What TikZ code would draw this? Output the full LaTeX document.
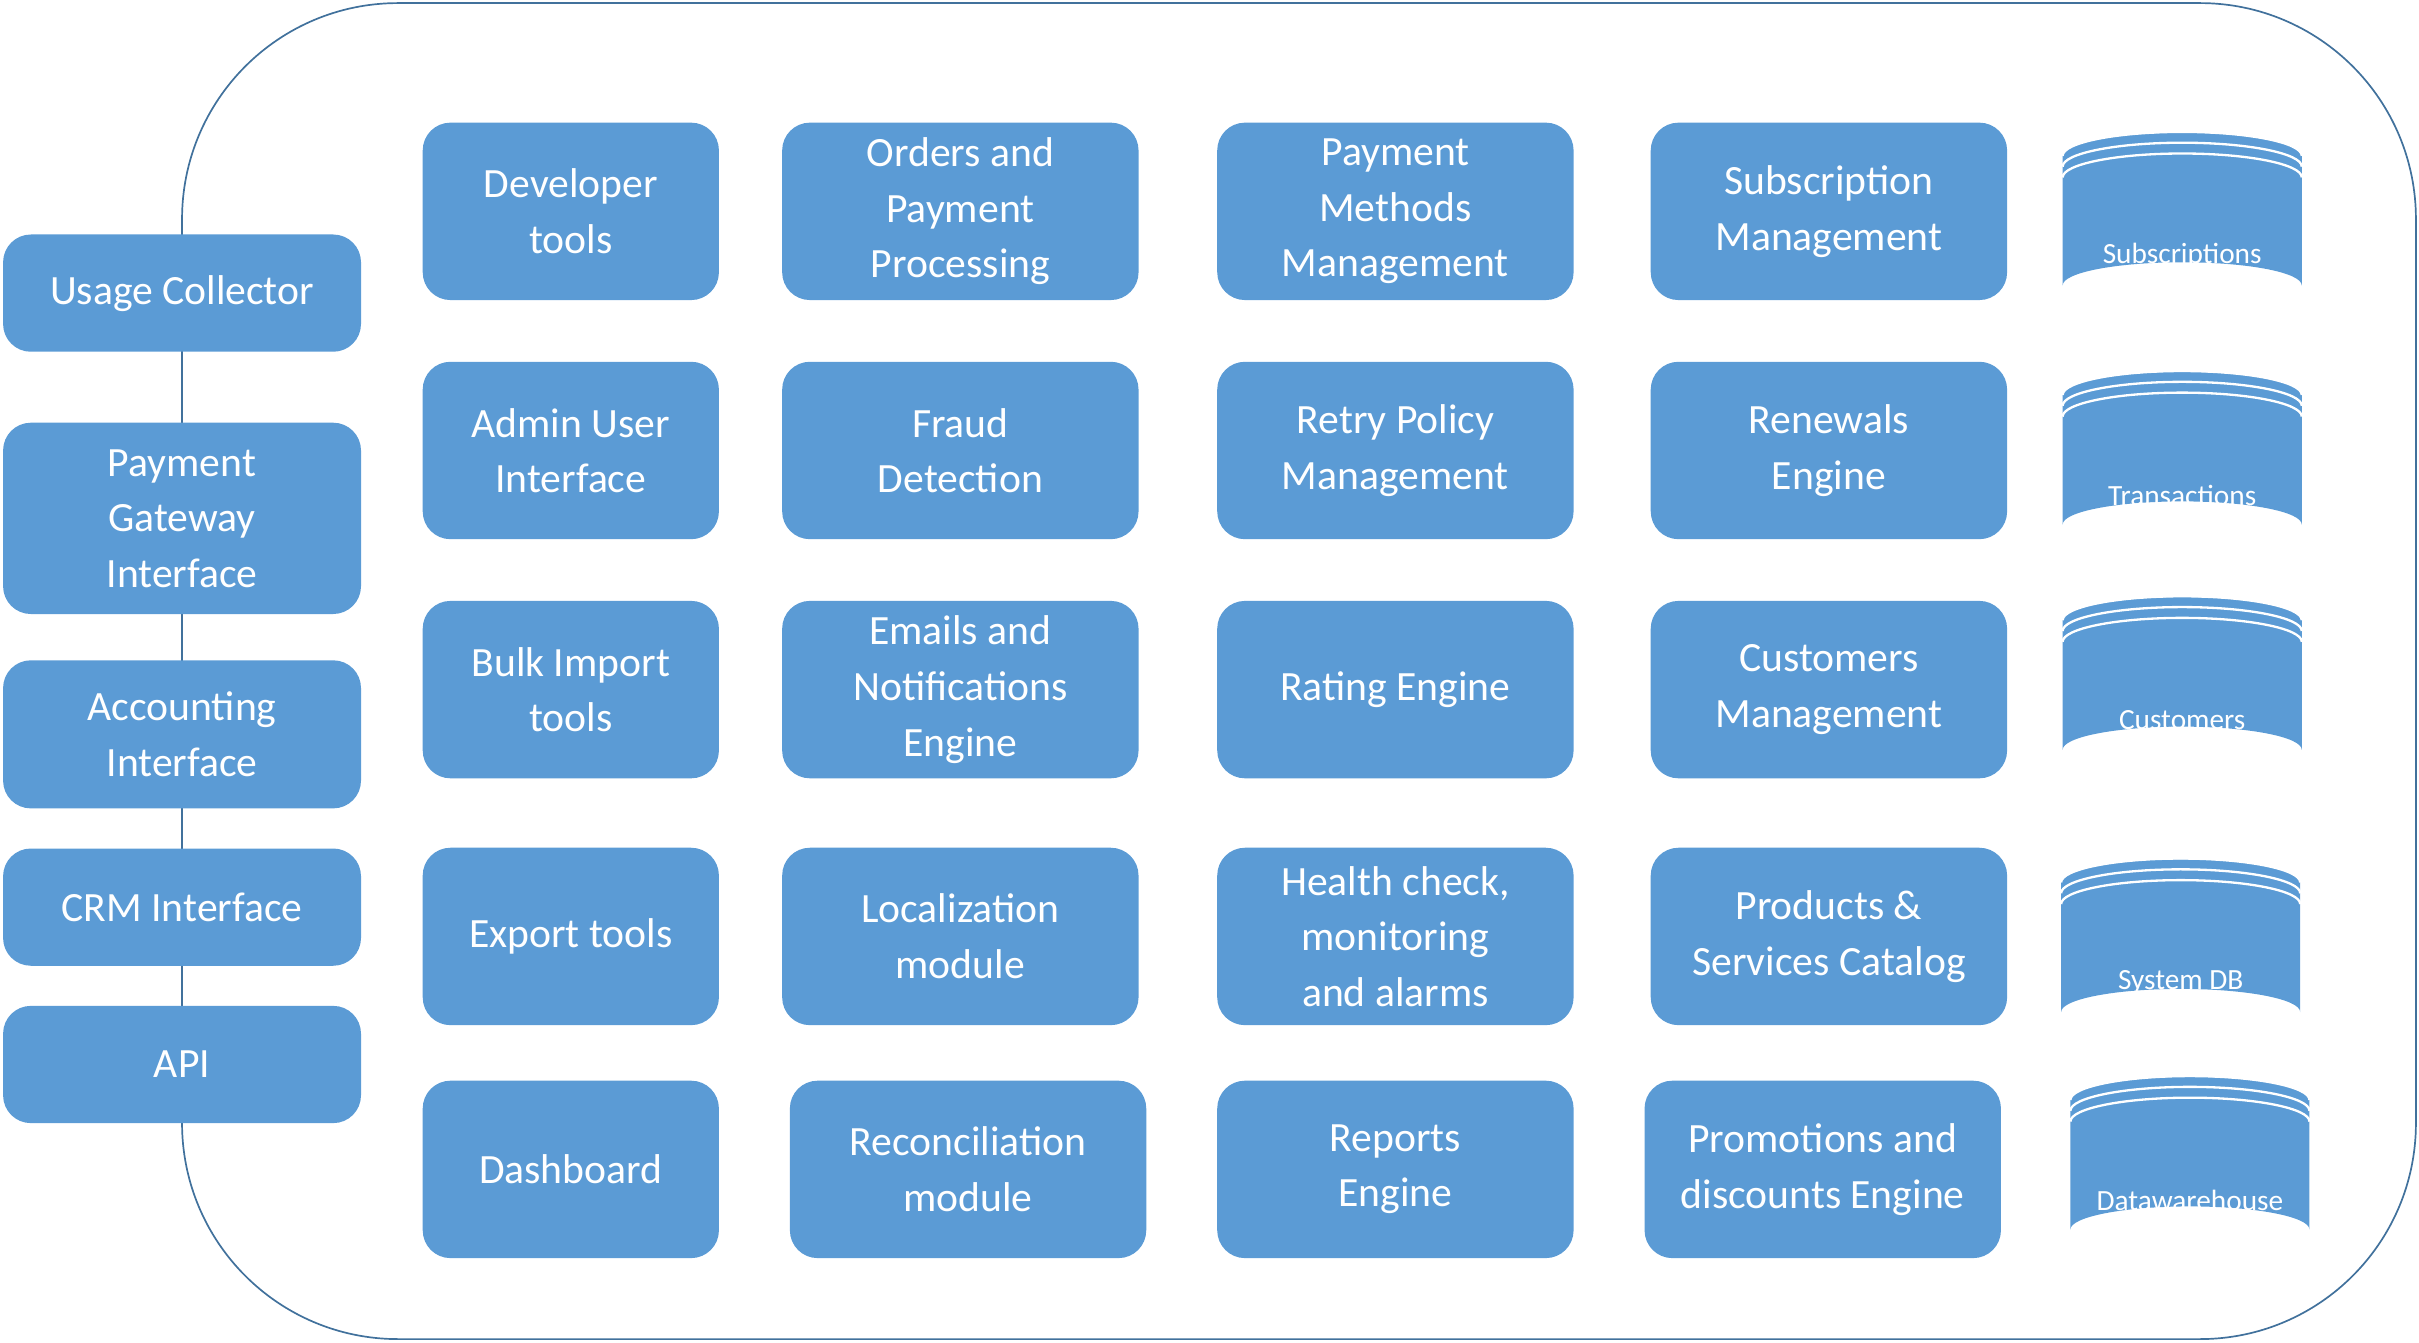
\documentclass[tikz,border=0pt]{standalone}
\usepackage{fontspec}
\setmainfont{Carlito}
\usetikzlibrary{positioning}
\definecolor{boxblue}{HTML}{5B9BD5}
\definecolor{edgeblue}{HTML}{41719C}

% database drum: name, west x, top y, text
\newcommand{\dbnode}[4]{%
  \fill[boxblue] (#2,#3+15) arc[start angle=180,end angle=360,x radius=77.5,y radius=15]
    -- (#2+155,#3+99) arc[start angle=0,end angle=-180,x radius=77.5,y radius=15] -- cycle;
  \draw[white,line width=1.5pt] (#2,#3+15) arc[start angle=180,end angle=360,x radius=77.5,y radius=15.5];
  \draw[white,line width=1.5pt] (#2,#3+22) arc[start angle=180,end angle=360,x radius=77.5,y radius=15.5];
  \draw[white,line width=1.5pt] (#2,#3+29) arc[start angle=180,end angle=360,x radius=77.5,y radius=15.5];
  \node[dbtext] (#1) at (#2+77.5,#3+80) {#4};
}

\begin{document}
\begin{tikzpicture}[x=1pt,y=-1pt,
  svc/.style={rectangle, rounded corners=18pt, fill=boxblue, text=white,
    minimum width=192pt, minimum height=115pt, align=center,
    font=\fontsize{27}{36}\selectfont, inner sep=0pt},
  wide/.style={svc, minimum width=231pt},
  side/.style={svc, minimum width=232pt},
  dbtext/.style={text=white, font=\fontsize{19}{22}\selectfont, inner sep=0pt}
]
\useasboundingbox (0,0) rectangle (1568,870);

% outer frame
\draw[edgeblue, line width=1.1pt, rounded corners=140pt] (118,2) rectangle (1566,868);

% left column
\node[side, minimum height=76pt] (usage) at (118,190) {Usage Collector};
\node[side, minimum height=124pt] (gateway) at (118,336) {Payment\\Gateway\\Interface};
\node[side, minimum height=96pt] (accounting) at (118,476) {Accounting\\Interface};
\node[side, minimum height=76pt] (crm) at (118,588) {CRM Interface};
\node[side, minimum height=76pt] (api) at (118,690) {API};

% column 1
\node[svc] (devtools) at (370,137) {Developer\\tools};
\node[svc] (adminui) at (370,292) {Admin User\\Interface};
\node[svc] (bulkimport) at (370,447) {Bulk Import\\tools};
\node[svc] (export) at (370,607) {Export tools};
\node[svc] (dashboard) at (370,758) {Dashboard};

% column 2
\node[wide] (orders) at (622.5,137) {Orders and\\Payment\\Processing};
\node[wide] (fraud) at (622.5,292) {Fraud\\Detection};
\node[wide] (emails) at (622.5,447) {Emails and\\Notifications\\Engine};
\node[wide] (locale) at (622.5,607) {Localization\\module};
\node[wide] (recon) at (627.5,758) {Reconciliation\\module};

% column 3
\node[wide] (paymethods) at (904.5,137) {Payment\\Methods\\Management};
\node[wide] (retry) at (904.5,292) {Retry Policy\\Management};
\node[wide] (rating) at (904.5,447) {Rating Engine};
\node[wide] (health) at (904.5,607) {Health check,\\monitoring\\and alarms};
\node[wide] (reports) at (904.5,758) {Reports\\Engine};

% column 4
\node[wide] (subs) at (1185.5,137) {Subscription\\Management};
\node[wide] (renewals) at (1185.5,292) {Renewals\\Engine};
\node[wide] (customers) at (1185.5,447) {Customers\\Management};
\node[wide] (catalog) at (1185.5,607) {Products \&\\Services Catalog};
\node[wide] (promos) at (1181.5,758) {Promotions and\\discounts Engine};

% databases
\dbnode{dbsubs}{1337}{86}{Subscriptions}
\dbnode{dbtrans}{1337}{241}{Transactions}
\dbnode{dbcust}{1337}{387}{Customers}
\dbnode{dbsys}{1336}{557}{System DB}
\dbnode{dbdw}{1342}{698}{Datawarehouse}
\end{tikzpicture}
\end{document}
